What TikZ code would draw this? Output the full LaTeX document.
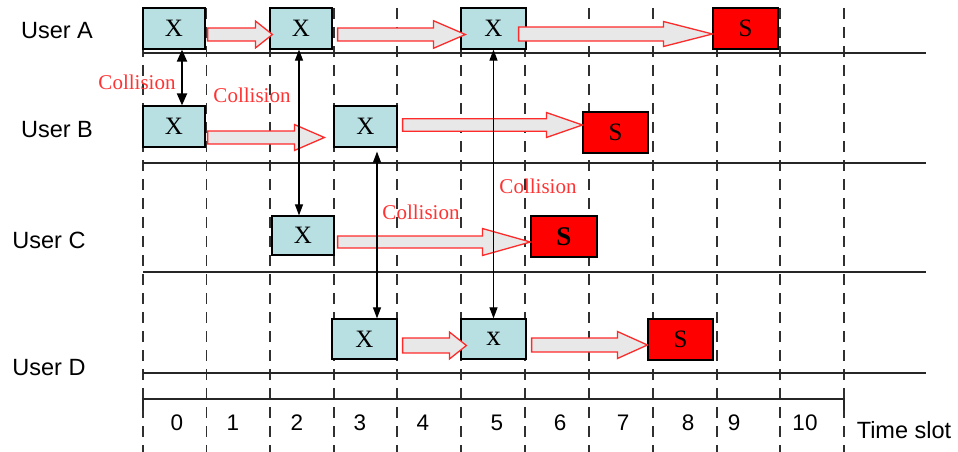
\documentclass[tikz,border=0pt]{standalone}
\usepackage{fontspec}
\setmainfont{Liberation Serif}
\setsansfont{Liberation Sans}
\usetikzlibrary{arrows.meta,calc}
\definecolor{boxblue}{HTML}{B8DFE2}
\definecolor{sred}{HTML}{FF0000}
\definecolor{arrfill}{HTML}{E8E8E8}
\definecolor{arred}{HTML}{FF2A2A}
\definecolor{lblred}{HTML}{FF3333}
\definecolor{gridgray}{HTML}{303030}
\newcommand\blockarrow[5]{%
  \path[blockarr] let \p1=#1, \p2=#2 in
    (\x1,{\y1+#3pt}) -- ({\x2-#5pt},{\y1+#3pt}) -- ({\x2-#5pt},{\y1+#4pt}) --
    (\x2,\y1) -- ({\x2-#5pt},{\y1-#4pt}) -- ({\x2-#5pt},{\y1-#3pt}) --
    (\x1,{\y1-#3pt}) -- cycle;}
\newcommand\boxtext[1]{\raisebox{-2pt}{#1}}
\begin{document}
\begin{tikzpicture}[x=1pt,y=-1pt,
  xbox/.style={draw=black, line width=1.2pt, fill=boxblue, inner sep=0pt,
    minimum width=#1, minimum height=41pt, font=\fontsize{25}{28}\selectfont},
  xbox/.default=62pt,
  sbox/.style={xbox=65pt, fill=sred},
  usr/.style={font=\sffamily\fontsize{23.5}{27}\selectfont, inner sep=0pt},
  num/.style={font=\sffamily\fontsize{22.5}{26}\selectfont, inner sep=0pt},
  coll/.style={text=lblred, font=\fontsize{21}{25}\selectfont, inner sep=0pt},
  blockarr/.style={draw=arred, fill=arrfill, line width=1.3pt, line join=miter},
  gridline/.style={draw=gridgray, line width=1.2pt, dash pattern=on 11pt off 8pt},
  lane/.style={draw=black!85, line width=1.1pt},
  hit/.style={draw=black, line width=1.1pt,
    {Triangle[length=11pt,width=8pt]}-{Triangle[length=11pt,width=8pt]}},
  hitbold/.style={draw=black, line width=2pt,
    {Triangle[length=12pt,width=10pt]}-{Triangle[length=12pt,width=10pt]}}]
\useasboundingbox (0,0) rectangle (958,452);

% time slot grid
\foreach \gx in {143,206.5,270,334,397,461,525,589,653,717,780,844}
  \draw[gridline] (\gx,8) -- (\gx,452);
% lanes
\foreach \ly in {53,163,272,373}
  \draw[lane] (143,\ly) -- (926,\ly);
\draw[lane] (143,410) -- (143,399) -- (844,399) -- (844,410);

% user labels
\node[usr] (ua) at (57,31) {User A};
\node[usr] (ub) at (57,130) {User B};
\node[usr] (uc) at (49,240) {User C};
\node[usr] (ud) at (49,368) {User D};

% boxes
\node[xbox] (a0) at (174,28.5) {\boxtext{X}};
\node[xbox] (a2) at (301,28.5) {\boxtext{X}};
\node[xbox=65pt] (a5) at (493.5,28.5) {\boxtext{X}};
\node[sbox] (as) at (745.5,28.5) {\boxtext{S}};
\node[xbox] (b0) at (174,126.5) {\boxtext{X}};
\node[xbox=63pt] (b3) at (365.5,126.5) {\boxtext{X}};
\node[sbox] (bs) at (615.5,132.5) {\boxtext{S}};
\node[xbox, minimum height=39pt] (c2) at (303,235.5) {\boxtext{X}};
\node[sbox, minimum width=66pt] (cs) at (564,236.5) {\fontsize{27}{30}\selectfont\bfseries\boxtext{S}};
\node[xbox=65pt, minimum height=40pt] (d3) at (364.5,339) {\boxtext{X}};
\node[xbox=65pt, minimum height=40pt] (d5) at (493.5,339) {\fontsize{29}{32}\selectfont\boxtext{x}};
\node[sbox] (ds) at (680.5,339.5) {\boxtext{S}};

% block arrows (start, tip, shaft half, head half, head length)
\blockarrow{([xshift=2pt,yshift=-6pt]a0.east)}{([xshift=3pt]a2.west)}{6.5}{13.5}{17}
\blockarrow{([xshift=5pt,yshift=-6pt]a2.east)}{([xshift=5pt]a5.west)}{6.5}{13.8}{32}
\blockarrow{([xshift=-8pt,yshift=-5.5pt]a5.east)}{(as.west)}{7}{12.5}{49}
\blockarrow{([xshift=2pt,yshift=-11pt]b0.east)}{([xshift=-9pt]b3.west)}{6.5}{13}{30}
\blockarrow{([xshift=5pt,yshift=1.5pt]b3.east)}{(bs.west)}{6.3}{12.5}{36}
\blockarrow{([xshift=3pt,yshift=-6.5pt]c2.east)}{(cs.west)}{6}{13.5}{48}
\blockarrow{([xshift=5pt,yshift=-6.5pt]d3.east)}{([xshift=6pt]d5.west)}{7.5}{13.5}{17}
\blockarrow{([xshift=5pt,yshift=-6pt]d5.east)}{(ds.west)}{7}{13.5}{30}

% collision arrows
\coordinate (k1) at ([xshift=8pt]a0.south);
\draw[hitbold] (k1) -- (k1 |- b0.north);
\coordinate (k2) at ([xshift=-2pt]a2.south);
\draw[hit] (k2) -- (k2 |- c2.north);
\coordinate (k3) at ([xshift=11.5pt,yshift=-4pt]b3.south);
\draw[hit] (k3) -- (k3 |- d3.north);
\draw[hit] (a5.south) -- (d5.north);

% collision labels
\node[coll] (c1) at (137,82) {Collision};
\node[coll] (c2l) at (252,95) {Collision};
\node[coll] (c3) at (421,212) {Collision};
\node[coll] (c4) at (538,186) {Collision};

% slot numbers
\foreach \n/\nx in {0/177,1/233,2/297,3/360,4/423,5/497,6/560,7/623,8/688,9/734,10/805}
  \node[num] (t\n) at (\nx,423) {\n};
\node[usr] (ts) at (904,430) {Time slot};
\end{tikzpicture}
\end{document}
